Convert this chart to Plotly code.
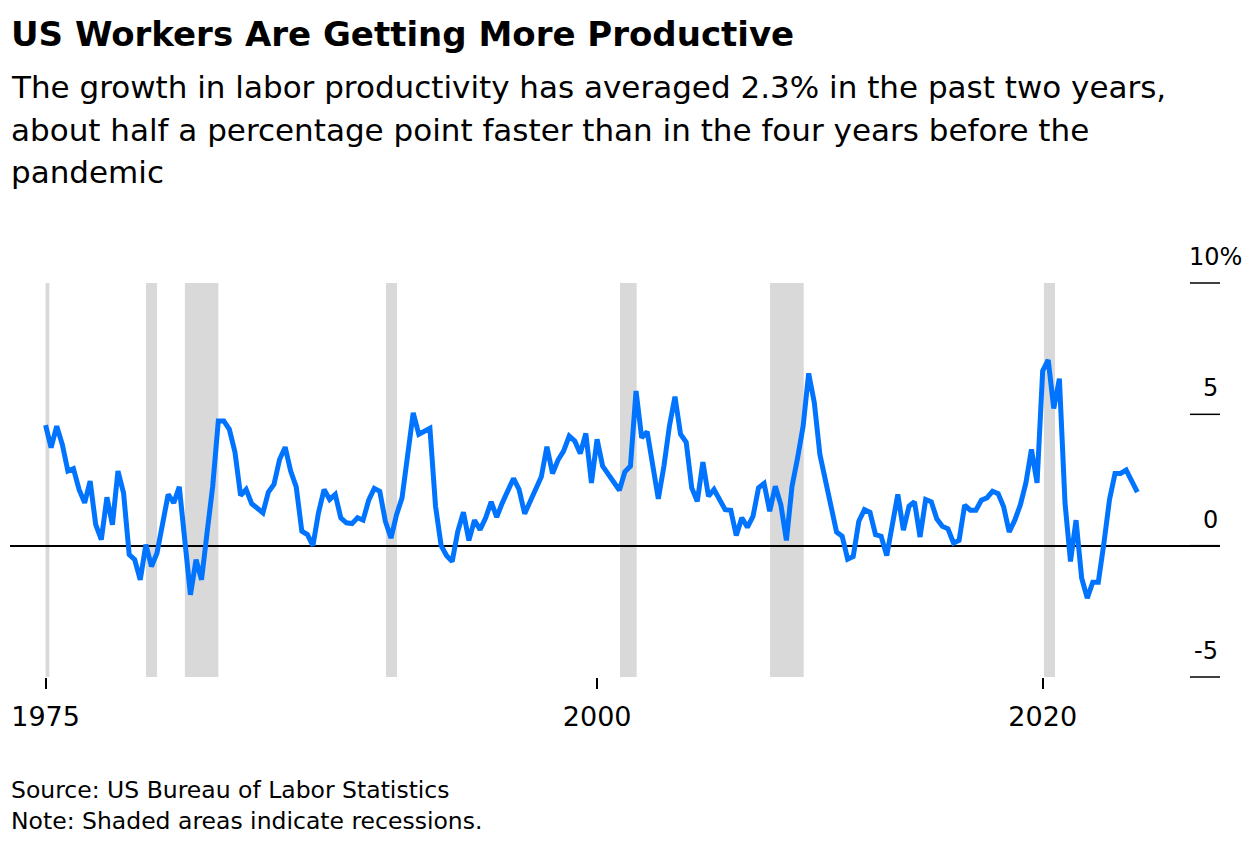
import pandas as pd
import plotly.graph_objects as go

# ---------------- data ----------------
# Quarterly labor productivity growth (% y/y), 1975Q1 .. 2024Q1
productivity_growth = [
    4.59, 3.73, 4.55, 3.85, 2.84, 2.93, 2.14, 1.63, 2.46, 0.80,
    0.23, 1.84, 0.80, 2.84, 2.00, -0.34, -0.53, -1.30, 0.04, -0.79,
    -0.28, 0.85, 1.95, 1.63, 2.24, 0.20, -1.87, -0.53, -1.30, 0.50,
    2.26, 4.75, 4.75, 4.43, 3.56, 1.91, 2.14, 1.60, 1.43, 1.25,
    2.04, 2.33, 3.28, 3.75, 2.84, 2.24, 0.55, 0.42, 0.00, 1.25,
    2.14, 1.76, 1.95, 1.06, 0.87, 0.84, 1.06, 0.97, 1.73, 2.18,
    2.07, 0.93, 0.29, 1.18, 1.82, 3.28, 5.06, 4.24, 4.36, 4.47,
    1.50, 0.00, -0.38, -0.60, 0.55, 1.27, 0.20, 0.97, 0.61, 1.06,
    1.67, 1.09, 1.63, 2.11, 2.56, 2.14, 1.22, 1.69, 2.20, 2.62,
    3.77, 2.75, 3.26, 3.60, 4.17, 3.98, 3.51, 4.27, 2.39, 4.05,
    3.03, 2.71, 2.43, 2.11, 2.81, 3.03, 5.89, 4.11, 4.34, 3.09,
    1.78, 3.03, 4.55, 5.67, 4.24, 3.94, 2.20, 1.69, 3.18, 1.88,
    2.14, 1.76, 1.37, 1.35, 0.39, 1.06, 0.70, 1.12, 2.20, 2.37,
    1.31, 2.26, 1.56, 0.20, 2.26, 3.35, 4.55, 6.56, 5.45, 3.47,
    2.52, 1.56, 0.52, 0.36, -0.51, -0.41, 0.93, 1.37, 1.27, 0.42,
    0.36, -0.38, 0.74, 1.95, 0.59, 1.50, 1.67, 0.33, 1.76, 1.67,
    1.02, 0.74, 0.64, 0.10, 0.20, 1.54, 1.35, 1.35, 1.73, 1.82,
    2.07, 1.98, 1.48, 0.52, 0.97, 1.56, 2.39, 3.66, 2.39, 6.65,
    7.07, 5.22, 6.36, 1.63, -0.60, 0.97, -1.23, -2.00, -1.39, -1.39,
    0.10, 1.76, 2.75, 2.75, 2.88, 2.46, 2.04,
]
first_quarter = "1975Q1"
last_quarter = "2024Q1"

# Recession shading (as drawn in the chart)
recession_starts = ["1975-03-31", "1979-10-01", "1981-07-01", "1990-07-10",
                    "2001-01-10", "2007-10-05", "2020-01-20"]
recession_ends = ["1975-06-01", "1980-04-01", "1983-01-01", "1991-01-07",
                  "2001-10-10", "2009-04-10", "2020-07-20"]

x_tick_labels = ["1975", "2000", "2020"]
x_tick_dates = ["1975-03-31", "2000-01-01", "2020-01-01"]
y_tick_values = [10, 5, 0, -5]
y_tick_labels = ["10%", "5", "0", "-5"]
y_range = [-5, 10]

title_text = "US Workers Are Getting More Productive"
subtitle_lines = [
    "The growth in labor productivity has averaged 2.3% in the past two years,",
    "about half a percentage point faster than in the four years before the",
    "pandemic",
]
footnote_text = "Source: US Bureau of Labor Statistics<br>Note: Shaded areas indicate recessions."

# ---------------- figure ----------------
quarters = pd.period_range(first_quarter, last_quarter, freq="Q")
dates = [p.end_time.strftime("%Y-%m-%d") for p in quarters]

W, H = 1250, 854
ML, MR, MT, MB = 10, 30, 283, 177
PLOT_W = W - ML - MR
PLOT_H = H - MT - MB
FONT = "DejaVu Sans"
BLUE = "#0074ff"


def px2paper(px):
    return (px - ML) / PLOT_W


def py2paper(py):
    return (H - MB - py) / PLOT_H


def yval2paper(v):
    return (v - y_range[0]) / (y_range[1] - y_range[0])


fig = go.Figure()
fig.add_trace(go.Scatter(
    x=dates, y=productivity_growth, mode="lines",
    line=dict(color=BLUE, width=5),
    hoverinfo="skip", showlegend=False,
))

for s, e in zip(recession_starts, recession_ends):
    fig.add_shape(type="rect", xref="x", yref="y", x0=s, x1=e, y0=y_range[0], y1=y_range[1],
                  fillcolor="#d9d9d9", line=dict(width=0), layer="below")

# short tick marks at the right end of each y value
for v in y_tick_values:
    fig.add_shape(type="line", xref="paper", yref="paper",
                  x0=px2paper(1190), x1=1.0, y0=yval2paper(v), y1=yval2paper(v),
                  line=dict(color="#000", width=1.5), layer="above")

annotations = [
    dict(text=f"<b>{title_text}</b>", xref="paper", yref="paper",
         x=px2paper(9), y=py2paper(12), xanchor="left", yanchor="top",
         showarrow=False, align="left", font=dict(family=FONT, size=34, color="#000")),
    dict(text=footnote_text, xref="paper", yref="paper",
         x=px2paper(9), y=py2paper(774), xanchor="left", yanchor="top",
         showarrow=False, align="left", font=dict(family=FONT, size=23.5, color="#000")),
]
SUB_TOP, SUB_STEP = 67, 42.5
for i, line in enumerate(subtitle_lines):
    annotations.append(dict(text=line, xref="paper", yref="paper",
                            x=px2paper(9), y=py2paper(SUB_TOP + i * SUB_STEP),
                            xanchor="left", yanchor="top", showarrow=False, align="left",
                            font=dict(family=FONT, size=31, color="#000")))

for v, lab in zip(y_tick_values, y_tick_labels):
    if lab.endswith("%"):
        annotations.append(dict(text=lab, xref="paper", yref="y", x=px2paper(1187), y=v,
                                xanchor="left", yanchor="bottom", yshift=10, showarrow=False,
                                font=dict(family=FONT, size=24, color="#000")))
    else:
        annotations.append(dict(text=lab, xref="paper", yref="y", x=1.0, y=v,
                                xanchor="right", yanchor="bottom", yshift=10, showarrow=False,
                                font=dict(family=FONT, size=24, color="#000")))

fig.update_layout(
    width=W, height=H,
    margin=dict(l=ML, r=MR, t=MT, b=MB, pad=0),
    paper_bgcolor="white", plot_bgcolor="white",
    showlegend=False,
    annotations=annotations,
    xaxis=dict(
        type="date", range=["1973-08-25", "2027-12-16"],
        tickmode="array", tickvals=x_tick_dates, ticktext=x_tick_labels,
        ticks="outside", ticklen=11, tickwidth=1.5, tickcolor="#000",
        showgrid=False, showline=False, zeroline=False,
        tickfont=dict(family=FONT, size=27, color="#000"),
        ticklabelstandoff=5, fixedrange=True,
    ),
    yaxis=dict(
        range=y_range, side="right",
        showticklabels=False, ticks="", showgrid=False, showline=False,
        zeroline=True, zerolinecolor="#000", zerolinewidth=2,
        fixedrange=True,
    ),
)

fig.write_html(
    "out.html", include_plotlyjs=True, config={"displayModeBar": False},
    post_script="document.body.style.margin='0';document.body.style.padding='0';",
)
